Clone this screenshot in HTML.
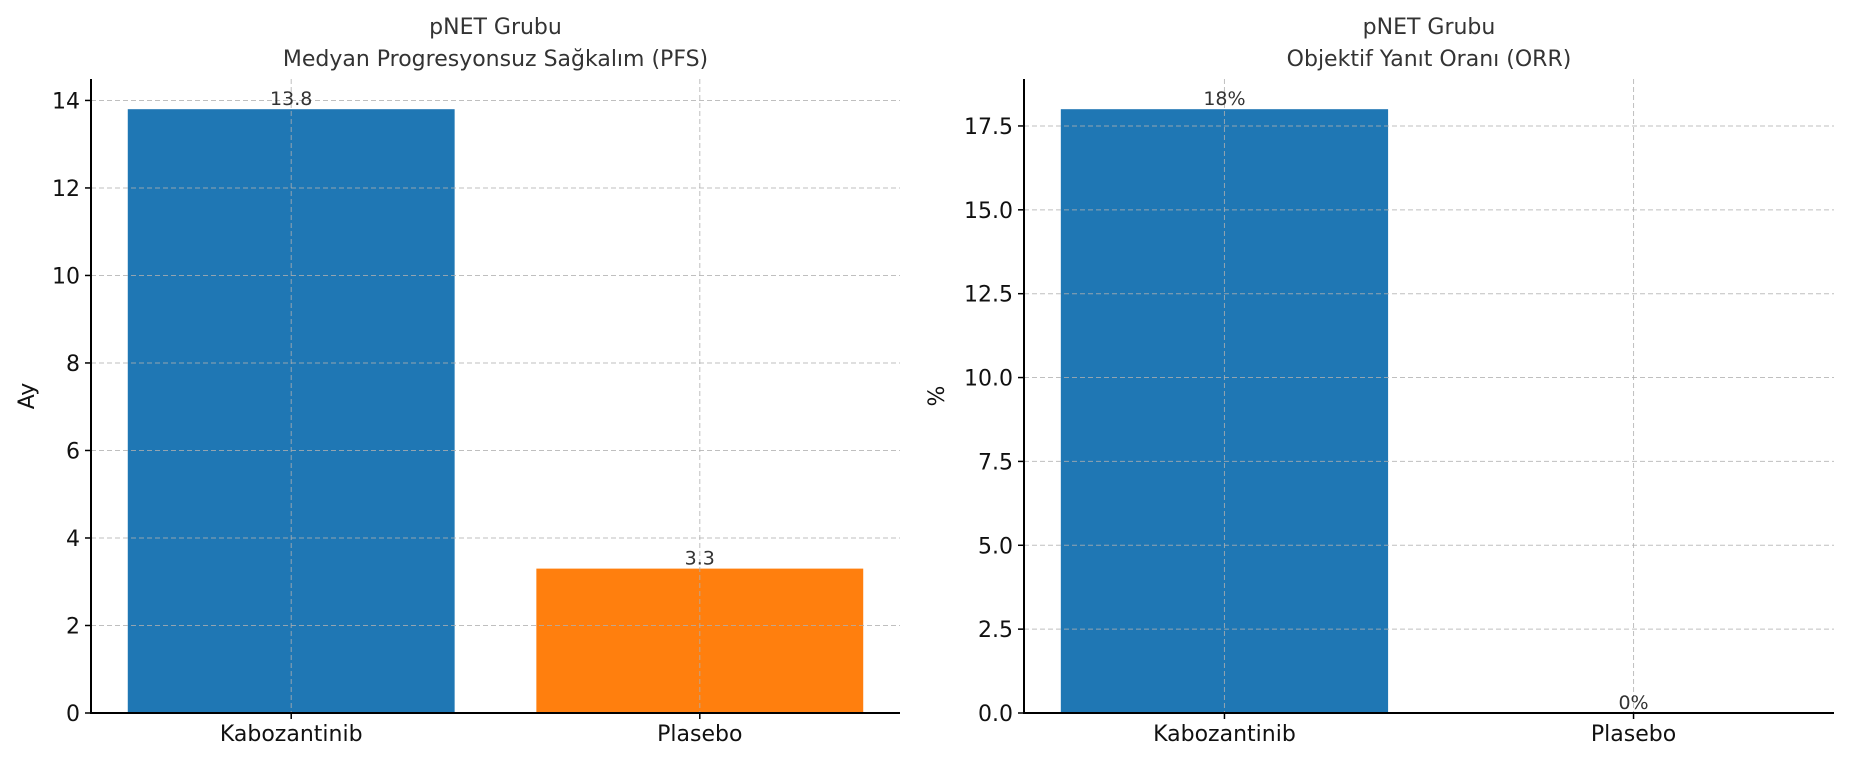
<!DOCTYPE html>
<html><head><meta charset="utf-8"><style>
body{margin:0;background:#fff}
svg{display:block;font-family:"DejaVu Sans","Liberation Sans",sans-serif}
</style></head><body>
<svg id="chart" width="1850" height="762" viewBox="0 0 1850 762"></svg>
<script>
const categories = ["Kabozantinib", "Plasebo"];
const pfsValues = [13.8, 3.3];
const pfsLabels = ["13.8", "3.3"];
const pfsTicks = [0, 2, 4, 6, 8, 10, 12, 14];
const orrValues = [18, 0];
const orrLabels = ["18%", "0%"];
const orrTicks = [0, 2.5, 5, 7.5, 10, 12.5, 15, 17.5];
const colors = ["#1f77b4", "#ff7f0e"];

const NS = "http://www.w3.org/2000/svg";
const svg = document.getElementById("chart");
function mk(tag, attrs, parent) {
  const e = document.createElementNS(NS, tag);
  for (const k in attrs) e.setAttribute(k, attrs[k]);
  (parent || svg).appendChild(e);
  return e;
}

function panel(opts) {
  const g = mk("g", {});
  
  
  const x0 = opts.left, x1 = opts.right, yb = 713, yt = 79;
  const ymax = Math.max(...opts.values) * 1.05;
  const xs = v => x0 + (v + 0.49) / 1.98 * (x1 - x0);
  const ys = v => yb - v / ymax * (yb - yt);
  // bars
  opts.values.forEach((v, i) => {
    const r = mk("rect", {x: xs(i - 0.4), y: ys(v), width: xs(i + 0.4) - xs(i - 0.4), height: yb - ys(v), fill: colors[i]}, g);
    
    
  });
  // grid
  opts.ticks.forEach(t => {
    const l = mk("line", {x1: x0, x2: x1, y1: ys(t), y2: ys(t), stroke: "#b0b0b0", "stroke-width": 1, "stroke-dasharray": "5,3", opacity: 0.8}, g);
    
    
  });
  categories.forEach((c, i) => {
    const l = mk("line", {x1: xs(i), x2: xs(i), y1: yt, y2: yb, stroke: "#b0b0b0", "stroke-width": 1, "stroke-dasharray": "5,3", opacity: 0.8}, g);
    
    
  });
  // axes
  const ax = mk("path", {d: `M${x0},${yt} L${x0},${yb} L${x1},${yb}`, fill: "none", stroke: "#000", "stroke-width": 2}, g);
  
  
  // y ticks
  opts.ticks.forEach((t, i) => {
    mk("line", {x1: x0 - 6, x2: x0, y1: ys(t), y2: ys(t), stroke: "#000", "stroke-width": 1.5}, g);
    const tx = mk("text", {x: x0 - 11, y: ys(t) + 8, "text-anchor": "end", "font-size": 22, fill: "#111"}, g);
    tx.textContent = opts.tickLabels[i];
    
    
  });
  // x ticks
  categories.forEach((c, i) => {
    mk("line", {x1: xs(i), x2: xs(i), y1: yb, y2: yb + 6, stroke: "#000", "stroke-width": 1.5}, g);
    const tx = mk("text", {x: xs(i), y: yb + 28, "text-anchor": "middle", "font-size": 22, fill: "#111"}, g);
    tx.textContent = c;
    
    
  });
  // value labels
  opts.values.forEach((v, i) => {
    const tx = mk("text", {x: xs(i), y: ys(v) - 4, "text-anchor": "middle", "font-size": 19, fill: "#333"}, g);
    tx.textContent = opts.labels[i];
    
    
  });
  // titles
  const cx = (x0 + x1) / 2;
  const t1 = mk("text", {x: cx, y: 34, "text-anchor": "middle", "font-size": 22, fill: "#333"}, g);
  t1.textContent = "pNET Grubu";
  
  
  const t2 = mk("text", {x: cx, y: 66, "text-anchor": "middle", "font-size": 22, fill: "#333"}, g);
  t2.textContent = opts.subtitle;
  
  
  const yl = mk("text", {x: 0, y: 0, "text-anchor": "middle", "font-size": 22, fill: "#111", transform: `translate(${opts.ylabelX},${(yt + yb) / 2}) rotate(-90)`}, g);
  yl.textContent = opts.ylabel;
  
  
}

panel({name: "pfs-panel", left: 91, right: 900, values: pfsValues, labels: pfsLabels, ticks: pfsTicks,
  tickLabels: pfsTicks.map(String), subtitle: "Medyan Progresyonsuz Sağkalım (PFS)", ylabel: "Ay", ylabelX: 34});
panel({name: "orr-panel", left: 1024, right: 1834, values: orrValues, labels: orrLabels, ticks: orrTicks,
  tickLabels: orrTicks.map(t => t.toFixed(1)), subtitle: "Objektif Yanıt Oranı (ORR)", ylabel: "%", ylabelX: 944});
</script>
</body></html>
